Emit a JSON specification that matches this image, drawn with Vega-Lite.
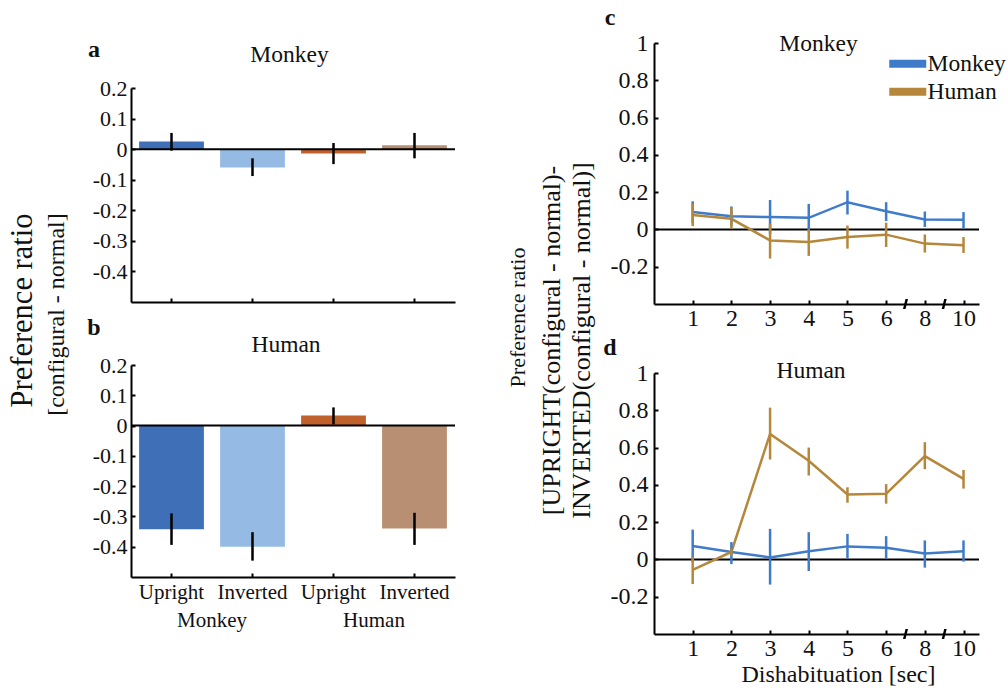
{
  "$schema": "https://vega.github.io/schema/vega-lite/v6.json",
  "background": "white",
  "padding": {"left": 7, "top": 6, "right": 0, "bottom": 0},
  "config": {
    "font": "Liberation Serif",
    "view": {"stroke": null},
    "axis": {"grid": false, "domainColor": "black", "domainWidth": 2, "tickColor": "black", "tickWidth": 2, "tickSize": -4, "labelColor": "#111", "titleColor": "#111", "labelFont": "Liberation Serif", "titleFont": "Liberation Serif", "titleFontWeight": "normal", "labelOverlap": false, "labelFlush": false},
    "title": {"font": "Liberation Serif", "fontWeight": "normal", "color": "#111"},
    "legend": {"labelFont": "Liberation Serif", "titleFont": "Liberation Serif"},
    "text": {"font": "Liberation Serif"}
  },
  "datasets": {
    "bars": [
      {"panel": "a", "cond": "MU", "mean": 0.025, "lo": -0.005, "hi": 0.053},
      {"panel": "a", "cond": "MI", "mean": -0.06, "lo": -0.088, "hi": -0.03},
      {"panel": "a", "cond": "HU", "mean": -0.014, "lo": -0.049, "hi": 0.02},
      {"panel": "a", "cond": "HI", "mean": 0.013, "lo": -0.03, "hi": 0.053},
      {"panel": "b", "cond": "MU", "mean": -0.342, "lo": -0.394, "hi": -0.29},
      {"panel": "b", "cond": "MI", "mean": -0.4, "lo": -0.446, "hi": -0.352},
      {"panel": "b", "cond": "HU", "mean": 0.033, "lo": 0.004, "hi": 0.06},
      {"panel": "b", "cond": "HI", "mean": -0.34, "lo": -0.394, "hi": -0.288}
    ],
    "lines": [
      {"panel": "c", "species": "Monkey", "pos": 1, "mean": 0.093, "lo": 0.035, "hi": 0.151},
      {"panel": "c", "species": "Monkey", "pos": 2, "mean": 0.071, "lo": 0.02, "hi": 0.123},
      {"panel": "c", "species": "Monkey", "pos": 3, "mean": 0.066, "lo": -0.026, "hi": 0.158},
      {"panel": "c", "species": "Monkey", "pos": 4, "mean": 0.062, "lo": -0.01, "hi": 0.137},
      {"panel": "c", "species": "Monkey", "pos": 5, "mean": 0.146, "lo": 0.08, "hi": 0.208},
      {"panel": "c", "species": "Monkey", "pos": 6, "mean": 0.098, "lo": 0.045, "hi": 0.146},
      {"panel": "c", "species": "Monkey", "pos": 7, "mean": 0.053, "lo": 0.013, "hi": 0.096},
      {"panel": "c", "species": "Monkey", "pos": 8, "mean": 0.052, "lo": 0.004, "hi": 0.093},
      {"panel": "c", "species": "Human", "pos": 1, "mean": 0.078, "lo": 0.018, "hi": 0.137},
      {"panel": "c", "species": "Human", "pos": 2, "mean": 0.057, "lo": 0.004, "hi": 0.119},
      {"panel": "c", "species": "Human", "pos": 3, "mean": -0.059, "lo": -0.156, "hi": 0.03},
      {"panel": "c", "species": "Human", "pos": 4, "mean": -0.067, "lo": -0.142, "hi": 0.0},
      {"panel": "c", "species": "Human", "pos": 5, "mean": -0.041, "lo": -0.103, "hi": 0.021},
      {"panel": "c", "species": "Human", "pos": 6, "mean": -0.028, "lo": -0.094, "hi": 0.036},
      {"panel": "c", "species": "Human", "pos": 7, "mean": -0.076, "lo": -0.124, "hi": -0.027},
      {"panel": "c", "species": "Human", "pos": 8, "mean": -0.085, "lo": -0.126, "hi": -0.041},
      {"panel": "d", "species": "Monkey", "pos": 1, "mean": 0.072, "lo": -0.015, "hi": 0.16},
      {"panel": "d", "species": "Monkey", "pos": 2, "mean": 0.04, "lo": -0.025, "hi": 0.093},
      {"panel": "d", "species": "Monkey", "pos": 3, "mean": 0.011, "lo": -0.135, "hi": 0.164},
      {"panel": "d", "species": "Monkey", "pos": 4, "mean": 0.044, "lo": -0.062, "hi": 0.146},
      {"panel": "d", "species": "Monkey", "pos": 5, "mean": 0.07, "lo": 0.005, "hi": 0.137},
      {"panel": "d", "species": "Monkey", "pos": 6, "mean": 0.063, "lo": 0.004, "hi": 0.125},
      {"panel": "d", "species": "Monkey", "pos": 7, "mean": 0.032, "lo": -0.044, "hi": 0.102},
      {"panel": "d", "species": "Monkey", "pos": 8, "mean": 0.044, "lo": -0.012, "hi": 0.102},
      {"panel": "d", "species": "Human", "pos": 1, "mean": -0.056, "lo": -0.132, "hi": 0.014},
      {"panel": "d", "species": "Human", "pos": 2, "mean": 0.04, "lo": 0.02, "hi": 0.06},
      {"panel": "d", "species": "Human", "pos": 3, "mean": 0.673, "lo": 0.536, "hi": 0.814},
      {"panel": "d", "species": "Human", "pos": 4, "mean": 0.529, "lo": 0.45, "hi": 0.6},
      {"panel": "d", "species": "Human", "pos": 5, "mean": 0.348, "lo": 0.304, "hi": 0.387},
      {"panel": "d", "species": "Human", "pos": 6, "mean": 0.352, "lo": 0.299, "hi": 0.404},
      {"panel": "d", "species": "Human", "pos": 7, "mean": 0.554, "lo": 0.484, "hi": 0.629},
      {"panel": "d", "species": "Human", "pos": 8, "mean": 0.432, "lo": 0.38, "hi": 0.48}
    ],
    "letters": [
      {"panel": "a", "label": "a", "name": "Monkey"},
      {"panel": "b", "label": "b", "name": "Human"},
      {"panel": "c", "label": "c", "name": "Monkey"},
      {"panel": "d", "label": "d", "name": "Human"}
    ],
    "groups": [{"group": "Monkey"}, {"group": "Human"}],
    "breaks": [{"pos": 6.5}, {"pos": 7.5}]
  },
  "resolve": {"scale": {"color": "independent"}, "legend": {"color": "independent"}},
  "spacing": 50,
  "hconcat": [
    {
      "vconcat": [
        {
          "width": 324,
          "height": 1,
          "data": {"name": "groups"},
          "mark": {"type": "rule", "opacity": 0},
          "encoding": {}
        },
        {
          "vconcat": [
            {
              "width": 324,
              "height": 214,
              "layer": [
                {
                  "data": {"name": "bars"},
                  "transform": [{"filter": "datum.panel == 'a'"}],
                  "mark": {"type": "bar"},
                  "encoding": {
                    "x": {"field": "cond", "type": "nominal", "scale": {"domain": ["MU", "MI", "HU", "HI"], "paddingInner": 0.2, "paddingOuter": 0.1}, "axis": {"labels": false, "title": null}},
                    "y": {"field": "mean", "type": "quantitative", "scale": {"domain": [-0.5, 0.2], "nice": false, "zero": false},
                      "axis": {"values": [-0.4, -0.3, -0.2, -0.1, 0, 0.1, 0.2], "labelOverlap": false, "labelExpr": "replace(format(datum.value, '~g'), '\u2212', '-')", "labelFontSize": 22, "labelPadding": 8,
                        "title": "Preference ratio", "titleFontSize": 30.5, "titleY": 222, "titlePadding": 55}},
                    "color": {"field": "cond", "type": "nominal", "scale": {"domain": ["MU", "MI", "HU", "HI"], "range": ["#3f6fb6", "#95bbe4", "#c0612b", "#b98f73"]}, "legend": null}
                  }
                },
                {
                  "data": {"name": "letters"},
                  "transform": [{"filter": "datum.panel == 'a'"}],
                  "mark": {"type": "rule", "color": "black", "strokeWidth": 2},
                  "encoding": {"y": {"datum": 0, "type": "quantitative", "axis": {"values": [-0.4, -0.3, -0.2, -0.1, 0, 0.1, 0.2], "labelOverlap": false}}}
                },
                {
                  "data": {"name": "bars"},
                  "transform": [{"filter": "datum.panel == 'a'"}],
                  "mark": {"type": "rule", "color": "black", "strokeWidth": 2.5},
                  "encoding": {"x": {"field": "cond", "type": "nominal"}, "y": {"field": "lo", "type": "quantitative", "axis": {"values": [-0.4, -0.3, -0.2, -0.1, 0, 0.1, 0.2], "labelOverlap": false}}, "y2": {"field": "hi"}}
                },
                {
                  "data": {"name": "letters"},
                  "transform": [{"filter": "datum.panel == 'a'"}],
                  "mark": {"type": "text", "fontSize": 24, "fontWeight": "bold", "baseline": "alphabetic", "align": "center", "dx": -77.5, "dy": -31, "color": "#111"},
                  "encoding": {"x": {"datum": "MU"}, "y": {"datum": 0.2, "type": "quantitative", "axis": {"values": [-0.4, -0.3, -0.2, -0.1, 0, 0.1, 0.2], "labelOverlap": false}}, "text": {"field": "label"}}
                },
                {
                  "data": {"name": "letters"},
                  "transform": [{"filter": "datum.panel == 'a'"}],
                  "mark": {"type": "text", "fontSize": 23.5, "baseline": "alphabetic", "align": "center", "dx": 37, "dy": -26, "color": "#111"},
                  "encoding": {"x": {"datum": "MI"}, "y": {"datum": 0.2, "type": "quantitative", "axis": {"values": [-0.4, -0.3, -0.2, -0.1, 0, 0.1, 0.2], "labelOverlap": false}}, "text": {"field": "name"}}
                }
              ]
            },
            {
              "width": 324,
              "height": 212,
              "layer": [
                {
                  "layer": [
                    {
                      "data": {"name": "bars"},
                      "transform": [{"filter": "datum.panel == 'b'"}],
                      "mark": {"type": "bar"},
                      "encoding": {
                        "x": {"field": "cond", "type": "nominal", "scale": {"domain": ["MU", "MI", "HU", "HI"], "paddingInner": 0.2, "paddingOuter": 0.1},
                          "axis": {"labelExpr": "(datum.value == 'MU' || datum.value == 'HU') ? 'Upright' : 'Inverted'", "labelAngle": 0, "labelFontSize": 21, "labelPadding": 8, "title": null}},
                        "y": {"field": "mean", "type": "quantitative", "scale": {"domain": [-0.5, 0.2], "nice": false, "zero": false},
                          "axis": {"values": [-0.4, -0.3, -0.2, -0.1, 0, 0.1, 0.2], "labelOverlap": false, "labelExpr": "replace(format(datum.value, '~g'), '\u2212', '-')", "labelFontSize": 22, "labelPadding": 8,
                            "title": "[configural - normal]", "titleFontSize": 24, "titleY": -51, "titlePadding": 24}},
                        "color": {"field": "cond", "type": "nominal", "scale": {"domain": ["MU", "MI", "HU", "HI"], "range": ["#3f6fb6", "#95bbe4", "#c0612b", "#b98f73"]}, "legend": null}
                      }
                    },
                    {
                      "data": {"name": "letters"},
                      "transform": [{"filter": "datum.panel == 'b'"}],
                      "mark": {"type": "rule", "color": "black", "strokeWidth": 2},
                      "encoding": {"y": {"datum": 0, "type": "quantitative", "axis": {"values": [-0.4, -0.3, -0.2, -0.1, 0, 0.1, 0.2], "labelOverlap": false}}}
                    },
                    {
                      "data": {"name": "bars"},
                      "transform": [{"filter": "datum.panel == 'b'"}],
                      "mark": {"type": "rule", "color": "black", "strokeWidth": 2.5},
                      "encoding": {"x": {"field": "cond", "type": "nominal"}, "y": {"field": "lo", "type": "quantitative", "axis": {"values": [-0.4, -0.3, -0.2, -0.1, 0, 0.1, 0.2], "labelOverlap": false}}, "y2": {"field": "hi"}}
                    },
                    {
                      "data": {"name": "letters"},
                      "transform": [{"filter": "datum.panel == 'b'"}],
                      "mark": {"type": "text", "fontSize": 24, "fontWeight": "bold", "baseline": "alphabetic", "align": "center", "dx": -77.5, "dy": -30, "color": "#111"},
                      "encoding": {"x": {"datum": "MU"}, "y": {"datum": 0.2, "type": "quantitative", "axis": {"values": [-0.4, -0.3, -0.2, -0.1, 0, 0.1, 0.2], "labelOverlap": false}}, "text": {"field": "label"}}
                    },
                    {
                      "data": {"name": "letters"},
                      "transform": [{"filter": "datum.panel == 'b'"}],
                      "mark": {"type": "text", "fontSize": 23.5, "baseline": "alphabetic", "align": "center", "dx": 33.5, "dy": -13, "color": "#111"},
                      "encoding": {"x": {"datum": "MI"}, "y": {"datum": 0.2, "type": "quantitative", "axis": {"values": [-0.4, -0.3, -0.2, -0.1, 0, 0.1, 0.2], "labelOverlap": false}}, "text": {"field": "name"}}
                    }
                  ]
                },
                {
                  "data": {"name": "groups"},
                  "mark": {"type": "rule", "opacity": 0},
                  "encoding": {
                    "x": {"field": "group", "type": "nominal", "scale": {"domain": ["Monkey", "Human"], "paddingInner": 0, "paddingOuter": 0},
                      "axis": {"orient": "bottom", "offset": 30, "domain": false, "ticks": false, "labelAngle": 0, "labelFontSize": 21, "labelPadding": 2, "title": null}}
                  }
                }
              ],
              "resolve": {"scale": {"x": "independent"}, "axis": {"x": "independent"}}
            }
          ],
          "spacing": 63,
          "bounds": "flush",
          "resolve": {"scale": {"color": "independent"}, "legend": {"color": "independent"}}
        }
      ],
      "spacing": 44,
      "bounds": "flush",
      "resolve": {"scale": {"color": "independent"}, "legend": {"color": "independent"}}
    },
    {
      "vconcat": [
        {
          "width": 325,
          "height": 261,
          "layer": [
            {
              "data": {"name": "letters"},
              "transform": [{"filter": "datum.panel == 'c'"}],
              "mark": {"type": "rule", "color": "black", "strokeWidth": 2},
              "encoding": {"y": {"datum": 0, "type": "quantitative", "scale": {"domain": [-0.4, 1], "nice": false, "zero": false},
                "axis": {"values": [-0.2, 0, 0.2, 0.4, 0.6, 0.8, 1], "labelOverlap": false, "labelExpr": "replace(format(datum.value, '~g'), '\u2212', '-')", "labelFontSize": 24, "labelPadding": 10,
                  "title": "Preference ratio", "titleFontSize": 22, "titleY": 274, "titlePadding": 81}}}
            },
            {
              "data": {"name": "lines"},
              "transform": [{"filter": "datum.panel == 'c'"}],
              "mark": {"type": "line", "strokeWidth": 2.5},
              "encoding": {
                "x": {"field": "pos", "type": "quantitative", "scale": {"domain": [0, 8.4], "nice": false, "zero": false},
                  "axis": {"values": [1, 2, 3, 4, 5, 6, 7, 8], "labelExpr": "datum.value == 7 ? '8' : datum.value == 8 ? '10' : '' + datum.value", "labelFontSize": 24, "labelPadding": 6, "title": null}},
                "y": {"field": "mean", "type": "quantitative"},
                "color": {"field": "species", "type": "nominal", "scale": {"domain": ["Monkey", "Human"], "range": ["#3f7bc8", "#b5873a"]},
                  "legend": {"orient": "none", "legendX": 242, "legendY": 9, "title": null, "symbolType": "M-4,0H4", "symbolSize": 85.6, "symbolStrokeWidth": 8, "labelFontSize": 23.5, "labelOffset": 8, "rowPadding": -12, "labelColor": "#111"}}
              }
            },
            {
              "data": {"name": "lines"},
              "transform": [{"filter": "datum.panel == 'c'"}],
              "mark": {"type": "rule", "strokeWidth": 2.5},
              "encoding": {
                "x": {"field": "pos", "type": "quantitative"},
                "y": {"field": "lo", "type": "quantitative"},
                "y2": {"field": "hi"},
                "color": {"field": "species", "type": "nominal"}
              }
            },
            {
              "data": {"name": "breaks"},
              "mark": {"type": "point", "shape": "M-0.5,1L0,-1L0.5,-1L0,1Z", "filled": true, "opacity": 1, "size": 100, "color": "black"},
              "encoding": {"x": {"field": "pos", "type": "quantitative"}, "y": {"datum": -0.4}}
            },
            {
              "data": {"name": "letters"},
              "transform": [{"filter": "datum.panel == 'c'"}],
              "mark": {"type": "text", "fontSize": 24, "fontWeight": "bold", "baseline": "alphabetic", "align": "center", "dx": -44, "dy": -18, "color": "#111"},
              "encoding": {"x": {"datum": 0}, "y": {"datum": 1}, "text": {"field": "label"}}
            },
            {
              "data": {"name": "letters"},
              "transform": [{"filter": "datum.panel == 'c'"}],
              "mark": {"type": "text", "fontSize": 23.5, "baseline": "alphabetic", "align": "center", "dx": 164.5, "dy": 8, "color": "#111"},
              "encoding": {"x": {"datum": 0}, "y": {"datum": 1}, "text": {"field": "name"}}
            }
          ]
        },
        {
          "width": 325,
          "height": 261,
          "layer": [
            {
              "data": {"name": "letters"},
              "transform": [{"filter": "datum.panel == 'd'"}],
              "mark": {"type": "rule", "color": "black", "strokeWidth": 2},
              "encoding": {"y": {"datum": 0, "type": "quantitative", "scale": {"domain": [-0.4, 1], "nice": false, "zero": false},
                "axis": {"values": [-0.2, 0, 0.2, 0.4, 0.6, 0.8, 1], "labelOverlap": false, "labelExpr": "replace(format(datum.value, '~g'), '\u2212', '-')", "labelFontSize": 24, "labelPadding": 10,
                  "title": ["[UPRIGHT(configural - normal)-", "INVERTED(configural - normal)]"], "titleFontSize": 26, "titleLineHeight": 30, "titleY": -33, "titlePadding": 16}}}
            },
            {
              "data": {"name": "lines"},
              "transform": [{"filter": "datum.panel == 'd'"}],
              "mark": {"type": "line", "strokeWidth": 2.5},
              "encoding": {
                "x": {"field": "pos", "type": "quantitative", "scale": {"domain": [0, 8.4], "nice": false, "zero": false},
                  "axis": {"values": [1, 2, 3, 4, 5, 6, 7, 8], "labelExpr": "datum.value == 7 ? '8' : datum.value == 8 ? '10' : '' + datum.value", "labelFontSize": 24, "labelPadding": 6,
                    "title": "Dishabituation [sec]", "titleFontSize": 24, "titleX": 184, "titlePadding": 2}},
                "y": {"field": "mean", "type": "quantitative"},
                "color": {"field": "species", "type": "nominal", "scale": {"domain": ["Monkey", "Human"], "range": ["#3f7bc8", "#b5873a"]}, "legend": null}
              }
            },
            {
              "data": {"name": "lines"},
              "transform": [{"filter": "datum.panel == 'd'"}],
              "mark": {"type": "rule", "strokeWidth": 2.5},
              "encoding": {
                "x": {"field": "pos", "type": "quantitative"},
                "y": {"field": "lo", "type": "quantitative"},
                "y2": {"field": "hi"},
                "color": {"field": "species", "type": "nominal"}
              }
            },
            {
              "data": {"name": "breaks"},
              "mark": {"type": "point", "shape": "M-0.5,1L0,-1L0.5,-1L0,1Z", "filled": true, "opacity": 1, "size": 100, "color": "black"},
              "encoding": {"x": {"field": "pos", "type": "quantitative"}, "y": {"datum": -0.4}}
            },
            {
              "data": {"name": "letters"},
              "transform": [{"filter": "datum.panel == 'd'"}],
              "mark": {"type": "text", "fontSize": 24, "fontWeight": "bold", "baseline": "alphabetic", "align": "center", "dx": -44, "dy": -18, "color": "#111"},
              "encoding": {"x": {"datum": 0}, "y": {"datum": 1}, "text": {"field": "label"}}
            },
            {
              "data": {"name": "letters"},
              "transform": [{"filter": "datum.panel == 'd'"}],
              "mark": {"type": "text", "fontSize": 23.5, "baseline": "alphabetic", "align": "center", "dx": 157, "dy": 5, "color": "#111"},
              "encoding": {"x": {"datum": 0}, "y": {"datum": 1}, "text": {"field": "name"}}
            }
          ]
        }
      ],
      "spacing": 69,
      "bounds": "flush",
      "resolve": {"scale": {"color": "independent"}, "legend": {"color": "independent"}}
    }
  ]
}
